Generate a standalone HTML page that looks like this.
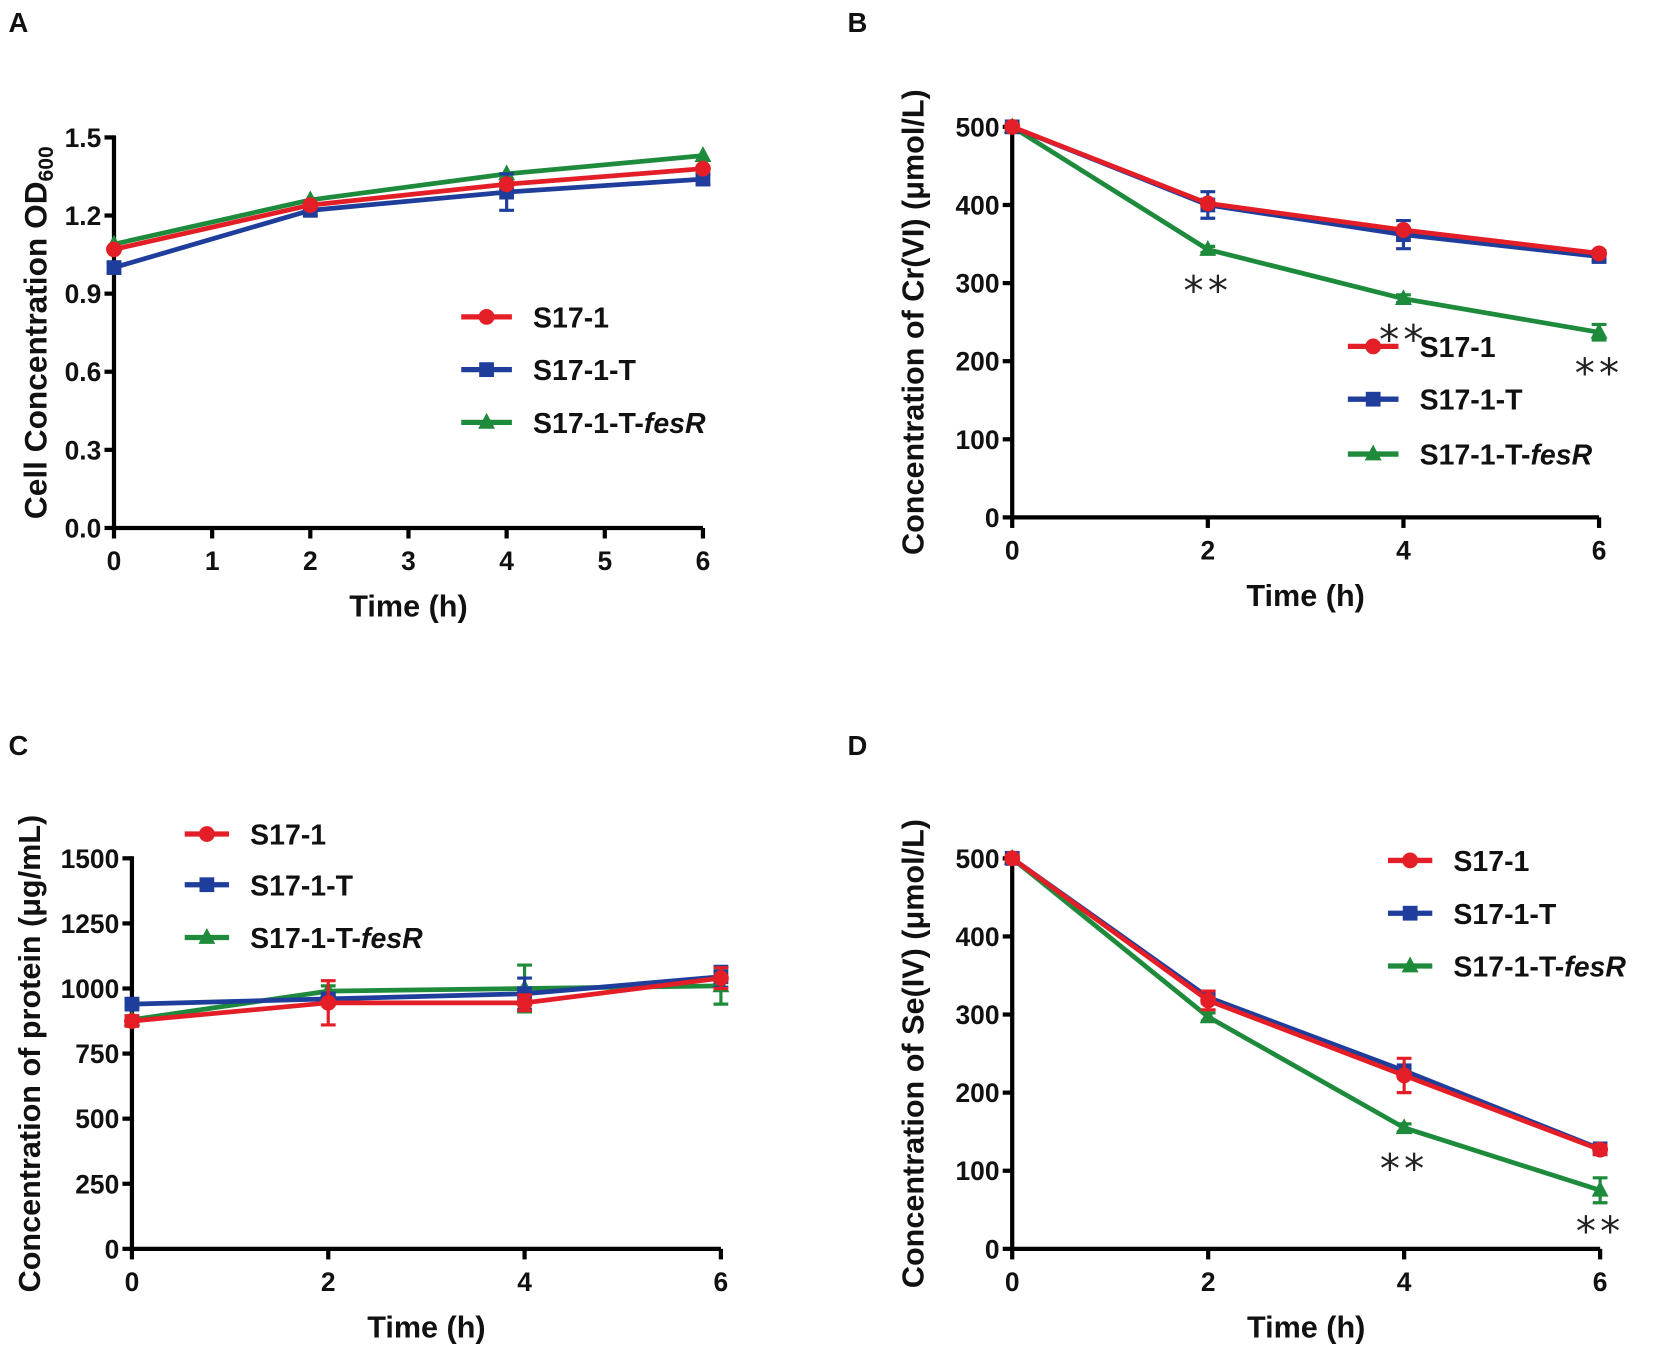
<!DOCTYPE html>
<html><head><meta charset="utf-8"><style>
html,body{margin:0;padding:0;background:#fff}
svg{display:block}
text{font-family:"Liberation Sans",sans-serif;font-weight:bold;fill:#111}
text.star{font-family:"DejaVu Sans",sans-serif;font-weight:normal;fill:#222}
</style></head><body>
<svg id="fig" width="1655" height="1362" viewBox="0 0 1568 1290" xmlns="http://www.w3.org/2000/svg"></svg>
<script>
const times = [0, 2, 4, 6];
const seriesNames = ["S17-1", "S17-1-T", "S17-1-T-"];
// Panel A
const aS171 = [1.07, 1.24, 1.32, 1.38];
const aS171T = [1.00, 1.22, 1.29, 1.34];
const aFesR = [1.09, 1.26, 1.36, 1.43];
const aErrT = [0.02, 0.02, 0.07, 0.02];
const aTicksY = ["0.0", "0.3", "0.6", "0.9", "1.2", "1.5"];
const aTicksX = ["0", "1", "2", "3", "4", "5", "6"];
// Panel B
const bS171 = [500, 402, 368, 338];
const bS171T = [500, 400, 362, 334];
const bFesR = [500, 343, 280, 237];
const bErrT = [4, 17, 18, 6];
const bErrF = [3, 4, 5, 10];
const bTicksY = ["0", "100", "200", "300", "400", "500"];
const bStars = [2, 4, 6];
// Panel C
const cS171 = [875, 945, 945, 1040];
const cS171T = [940, 960, 980, 1045];
const cFesR = [880, 990, 1000, 1010];
const cErrR = [20, 85, 30, 40];
const cErrT = [15, 20, 60, 40];
const cErrF = [15, 20, 90, 70];
const cTicksY = ["0", "250", "500", "750", "1000", "1250", "1500"];
// Panel D
const dS171 = [500, 318, 222, 127];
const dS171T = [500, 322, 228, 128];
const dFesR = [500, 297, 155, 75];
const dErrR = [3, 12, 22, 6];
const dErrF = [3, 5, 5, 16];
const dStars = [4, 6];
const evenTicks = ["0", "2", "4", "6"];

const NS = "http://www.w3.org/2000/svg";
const svg = document.getElementById("fig");
const RED = "#e41e26", BLUE = "#1f3e9c", GREEN = "#1e8a3c";
function mk(tag, attrs, parent) {
  const e = document.createElementNS(NS, tag);
  for (const k in attrs) e.setAttribute(k, attrs[k]);
  (parent || svg).appendChild(e);
  return e;
}
function marker(g, shape, x, y, color) {
  let m;
  if (shape === "circle") m = mk("circle", {cx: x, cy: y, r: 7.5, fill: color}, g);
  else if (shape === "square") m = mk("rect", {x: x - 7, y: y - 7, width: 14, height: 14, fill: color}, g);
  else m = mk("polygon", {points: `${x},${y - 9} ${x - 8},${y + 6} ${x + 8},${y + 6}`, fill: color}, g);
  return m;
}
function panel(cfg) {
  const g = mk("g", {});
  
  
  const X = v => cfg.x0 + (v - cfg.xmin) / (cfg.xmax - cfg.xmin) * (cfg.x1 - cfg.x0);
  const Y = v => cfg.y0 - (v - cfg.ymin) / (cfg.ymax - cfg.ymin) * (cfg.y0 - cfg.y1);
  const L = mk("text", {x: cfg.lx, y: cfg.ly, "font-size": 26}, g);
  L.textContent = cfg.letter;
  
  
  const ax = mk("path", {d: `M${cfg.x0},${cfg.y1 - 2} V${cfg.y0} H${cfg.x1}`, stroke: "#000", "stroke-width": 4, fill: "none"}, g);
  
  
  cfg.ticksY.forEach(t => {
    const v = parseFloat(t), y = Y(v);
    mk("line", {x1: cfg.x0 - 9, x2: cfg.x0, y1: y, y2: y, stroke: "#000", "stroke-width": 4}, g);
    const tx = mk("text", {x: cfg.x0 - 12, y: y + 9, "font-size": 25, "text-anchor": "end"}, g);
    tx.textContent = t;
    
    
  });
  cfg.ticksX.forEach(t => {
    const v = parseFloat(t), x = X(v);
    mk("line", {x1: x, x2: x, y1: cfg.y0, y2: cfg.y0 + 10, stroke: "#000", "stroke-width": 4}, g);
    const tx = mk("text", {x: x, y: cfg.y0 + 40, "font-size": 25, "text-anchor": "middle"}, g);
    tx.textContent = t;
    
    
  });
  const xt = mk("text", {x: (cfg.x0 + cfg.x1) / 2, y: cfg.y0 + 84, "font-size": 29, "text-anchor": "middle"}, g);
  xt.textContent = "Time (h)";
  
  
  const yt = mk("text", {x: 0, y: 0, "font-size": cfg.ytfs || 29, "text-anchor": "middle", transform: `translate(${cfg.ytx},${(cfg.y0 + cfg.y1) / 2 + cfg.ytdy}) rotate(-90)`}, g);
  yt.innerHTML = cfg.ytitle;
  
  
  cfg.series.slice().reverse().forEach(s => {
    const sg = mk("g", {}, g);
    
    
    if (s.err) s.vals.forEach((v, i) => {
      const e = s.err[i], x = X(times[i]);
      const eb = mk("path", {d: `M${x},${Y(v - e)} V${Y(v + e)} M${x - 7},${Y(v - e)} H${x + 7} M${x - 7},${Y(v + e)} H${x + 7}`, stroke: s.color, "stroke-width": 3, fill: "none"}, sg);
      
      
    });
    const pl = mk("polyline", {points: s.vals.map((v, i) => X(times[i]) + "," + Y(v)).join(" "), stroke: s.color, "stroke-width": 4.5, fill: "none"}, sg);
    
    
    s.vals.forEach((v, i) => {
      const m = marker(sg, s.shape, X(times[i]), Y(v), s.color);
      
      
    });
  });
  (cfg.stars || []).forEach(t => {
    const i = times.indexOf(t);
    const st = mk("text", {class: "star", x: X(t), y: Y(cfg.starSeries[i]) + 52, "font-size": 38, "text-anchor": "middle", "letter-spacing": 4}, g);
    st.textContent = "**";
    
    
  });
  const lg = mk("g", {}, g);
  
  
  cfg.series.forEach((s, k) => {
    const y = cfg.legY[k];
    const eg = mk("g", {}, lg);
    
    
    mk("line", {x1: cfg.legX, x2: cfg.legX + cfg.legW, y1: y, y2: y, stroke: s.color, "stroke-width": 5}, eg);
    marker(eg, s.shape, cfg.legX + cfg.legW / 2, y, s.color);
    const t = mk("text", {x: cfg.legX + cfg.legW + 20, y: y + 10, "font-size": 27}, eg);
    t.innerHTML = seriesNames[k] + (k === 2 ? '<tspan font-style="italic">fesR</tspan>' : "");
  });
}

panel({name: "panel-a", letter: "A", lx: 8, ly: 30, x0: 108, x1: 666, y0: 500, y1: 130, xmin: 0, xmax: 6, ymin: 0, ymax: 1.5,
  ticksY: aTicksY, ticksX: aTicksX, ytx: 44, ytdy: 0, ytfs: 30, ytitle: 'Cell Concentration OD<tspan font-size="20" dy="6">600</tspan>',
  series: [
    {key: "s17-1", color: RED, shape: "circle", vals: aS171},
    {key: "s17-1-t", color: BLUE, shape: "square", vals: aS171T, err: aErrT},
    {key: "s17-1-t-fesr", color: GREEN, shape: "triangle", vals: aFesR}
  ], legX: 437, legW: 48, legY: [300, 350, 400]});
panel({name: "panel-b", letter: "B", lx: 803, ly: 30, x0: 959, x1: 1515, y0: 490, y1: 120, xmin: 0, xmax: 6, ymin: 0, ymax: 500,
  ticksY: bTicksY, ticksX: evenTicks, ytx: 875, ytdy: 0, ytitle: 'Concentration of Cr(VI) (μmol/L)',
  series: [
    {key: "s17-1", color: RED, shape: "circle", vals: bS171},
    {key: "s17-1-t", color: BLUE, shape: "square", vals: bS171T, err: bErrT},
    {key: "s17-1-t-fesr", color: GREEN, shape: "triangle", vals: bFesR, err: bErrF}
  ], stars: bStars, starSeries: bFesR, legX: 1277, legW: 48, legY: [328, 378, 430]});
panel({name: "panel-c", letter: "C", lx: 8, ly: 715, x0: 125, x1: 683, y0: 1183, y1: 813, xmin: 0, xmax: 6, ymin: 0, ymax: 1500,
  ticksY: cTicksY, ticksX: evenTicks, ytx: 38, ytdy: 0, ytitle: 'Concentration of protein (μg/mL)',
  series: [
    {key: "s17-1", color: RED, shape: "circle", vals: cS171, err: cErrR},
    {key: "s17-1-t", color: BLUE, shape: "square", vals: cS171T, err: cErrT},
    {key: "s17-1-t-fesr", color: GREEN, shape: "triangle", vals: cFesR, err: cErrF}
  ], legX: 175, legW: 42, legY: [790, 838, 888]});
panel({name: "panel-d", letter: "D", lx: 803, ly: 715, x0: 959, x1: 1516, y0: 1183, y1: 813, xmin: 0, xmax: 6, ymin: 0, ymax: 500,
  ticksY: bTicksY, ticksX: evenTicks, ytx: 875, ytdy: 0, ytitle: 'Concentration of Se(IV) (μmol/L)',
  series: [
    {key: "s17-1", color: RED, shape: "circle", vals: dS171, err: dErrR},
    {key: "s17-1-t", color: BLUE, shape: "square", vals: dS171T},
    {key: "s17-1-t-fesr", color: GREEN, shape: "triangle", vals: dFesR, err: dErrF}
  ], stars: dStars, starSeries: dFesR, legX: 1315, legW: 42, legY: [815, 865, 915]});
</script>
</body></html>
